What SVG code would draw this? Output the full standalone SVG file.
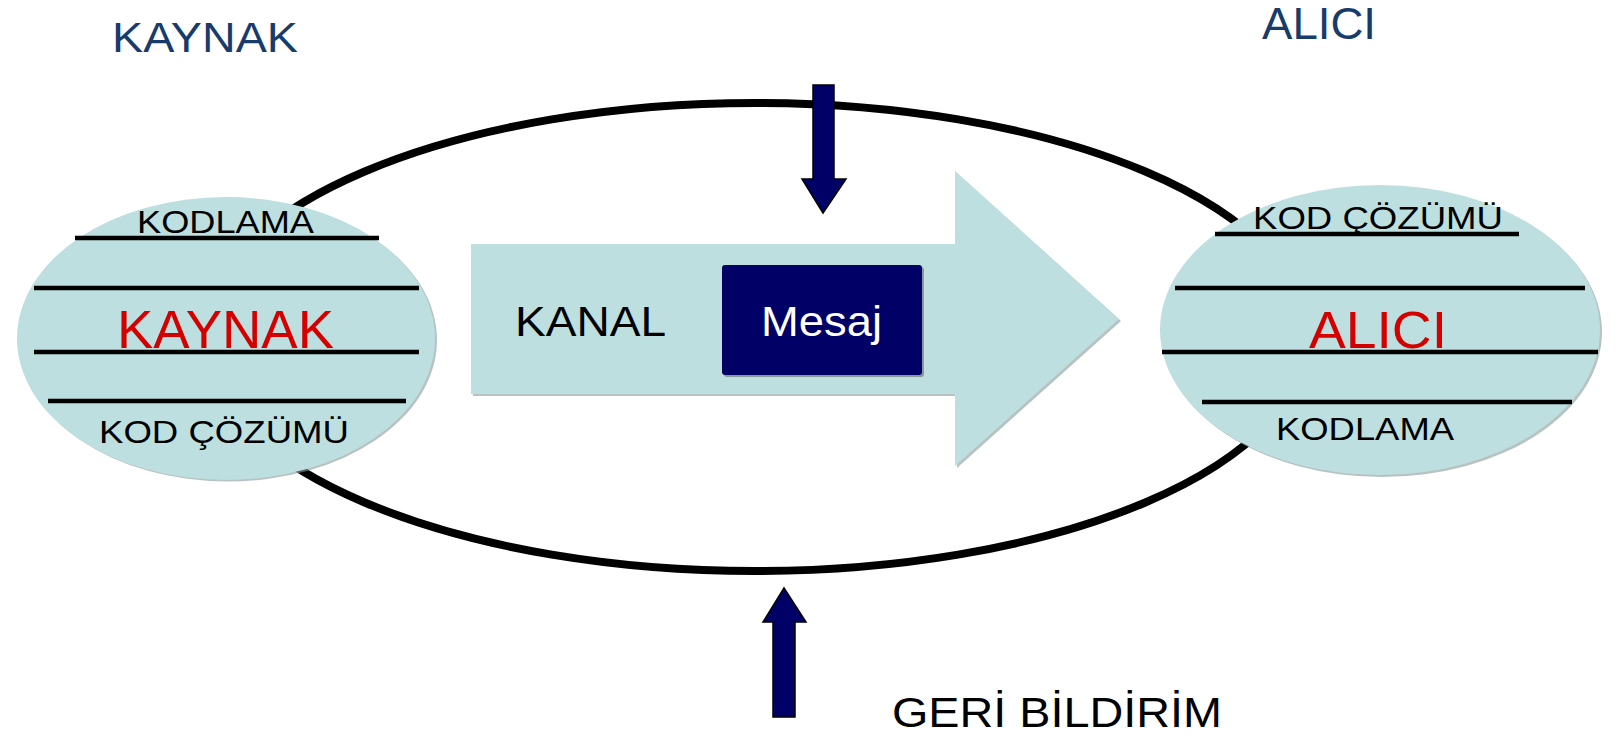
<svg xmlns="http://www.w3.org/2000/svg" width="1624" height="736" viewBox="0 0 1624 736">
<style>
.t{font-family:"Liberation Sans",Arial,sans-serif}
.shape{fill:#BDDFDF}
.shadow{fill:#8a9a9a;opacity:0.6}
.ln{stroke:#000;stroke-width:4.5}
.navy{fill:#000066;stroke:#000;stroke-width:1.5}
.hdr{fill:#173B6B}
</style>
<rect width="1624" height="736" fill="#fff"/>
<g id="connectors">
  <ellipse cx="755" cy="337" rx="552" ry="234" fill="none" stroke="#000" stroke-width="8"/>
</g>
<g id="node-kaynak">
  <ellipse class="shadow" cx="228" cy="340" rx="209" ry="141.5"/>
  <ellipse class="shape" cx="226" cy="338.5" rx="209" ry="141.5"/>
  <line class="ln" x1="75" y1="238" x2="379" y2="238"/>
  <line class="ln" x1="34" y1="288" x2="419" y2="288"/>
  <line class="ln" x1="34" y1="352" x2="419" y2="352"/>
  <line class="ln" x1="48" y1="401" x2="406" y2="401"/>
  <text class="t" x="137" y="233" font-size="31" textLength="177" lengthAdjust="spacingAndGlyphs">KODLAMA</text>
  <text class="t" x="117" y="348" font-size="53" fill="#D40000" textLength="217" lengthAdjust="spacingAndGlyphs">KAYNAK</text>
  <text class="t" x="99" y="443" font-size="31" textLength="250" lengthAdjust="spacingAndGlyphs">KOD ÇÖZÜMÜ</text>
</g>
<g id="node-alici">
  <ellipse class="shadow" cx="1382" cy="332" rx="220" ry="145"/>
  <ellipse class="shape" cx="1380" cy="330" rx="220" ry="145"/>
  <line class="ln" x1="1215" y1="234" x2="1519" y2="234"/>
  <line class="ln" x1="1175" y1="288" x2="1585" y2="288"/>
  <line class="ln" x1="1162" y1="352" x2="1598" y2="352"/>
  <line class="ln" x1="1202" y1="402" x2="1572" y2="402"/>
  <text class="t" x="1253" y="229" font-size="31" textLength="250" lengthAdjust="spacingAndGlyphs">KOD ÇÖZÜMÜ</text>
  <text class="t" x="1309" y="348" font-size="51" fill="#D40000" textLength="138" lengthAdjust="spacingAndGlyphs">ALICI</text>
  <text class="t" x="1276" y="440" font-size="32" textLength="178" lengthAdjust="spacingAndGlyphs">KODLAMA</text>
</g>
<g id="node-kanal">
  <polygon class="shadow" points="473,246 957,246 957,173 1121,321 957,468 957,396 473,396"/>
  <polygon class="shape" points="471,244 955,244 955,171 1119,319 955,466 955,394 471,394"/>
  <text class="t" x="515" y="336" font-size="43" textLength="151" lengthAdjust="spacingAndGlyphs">KANAL</text>
</g>
<g id="node-mesaj">
  <rect x="724" y="267" width="200" height="110" rx="3" fill="#555" opacity="0.5"/>
  <rect x="722" y="265" width="200" height="110" rx="3" fill="#000066"/>
  <text class="t" x="761" y="336" font-size="43" fill="#fff" textLength="121" lengthAdjust="spacingAndGlyphs">Mesaj</text>
</g>
<g id="arrow-noise">
  <polygon class="navy" points="813,85 834,85 834,179 846,179 823,213 802,179 813,179"/>
</g>
<g id="arrow-feedback">
  <polygon class="navy" points="773,717 795,717 795,622 806,622 784,588 763,622 773,622"/>
</g>
<g id="labels">
  <text class="t hdr" x="112" y="52" font-size="42" textLength="186" lengthAdjust="spacingAndGlyphs">KAYNAK</text>
  <text class="t hdr" x="1262" y="39" font-size="44" textLength="114" lengthAdjust="spacingAndGlyphs">ALICI</text>
  <text class="t" x="892" y="727" font-size="42" textLength="330" lengthAdjust="spacingAndGlyphs">GERİ BİLDİRİM</text>
</g>
</svg>
